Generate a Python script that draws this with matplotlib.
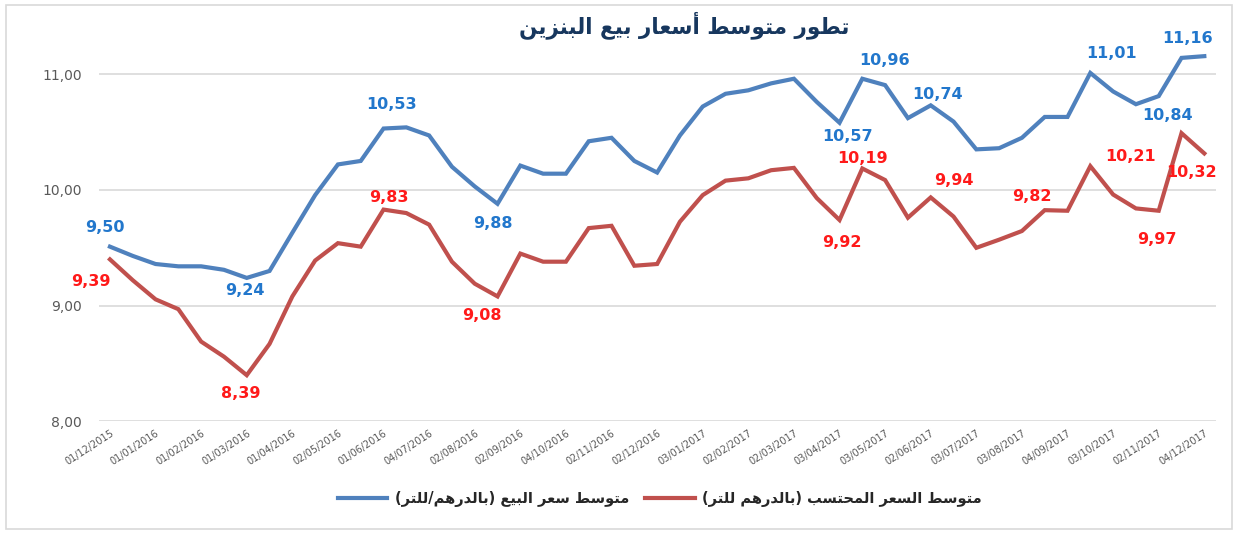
import matplotlib
matplotlib.use('Agg')
import matplotlib.pyplot as plt
from matplotlib.patches import Rectangle
from matplotlib.ticker import FuncFormatter

# ---------------- data ----------------
tick_dates = ['01/12/2015', '01/01/2016', '01/02/2016', '01/03/2016', '01/04/2016',
              '02/05/2016', '01/06/2016', '04/07/2016', '02/08/2016', '02/09/2016',
              '04/10/2016', '02/11/2016', '02/12/2016', '03/01/2017', '02/02/2017',
              '02/03/2017', '03/04/2017', '03/05/2017', '02/06/2017', '03/07/2017',
              '03/08/2017', '04/09/2017', '03/10/2017', '02/11/2017', '04/12/2017']

sale_price = [9.51, 9.43, 9.36, 9.34, 9.34, 9.31, 9.24, 9.30, 9.63, 9.955,
              10.22, 10.25, 10.53, 10.54, 10.47, 10.20, 10.03, 9.88, 10.21, 10.14,
              10.14, 10.42, 10.45, 10.25, 10.15, 10.47, 10.72, 10.83, 10.86, 10.92,
              10.96, 10.76, 10.58, 10.96, 10.905, 10.62, 10.73, 10.59, 10.35, 10.36,
              10.45, 10.63, 10.63, 11.01, 10.85, 10.74, 10.81, 11.14, 11.155]

calc_price = [9.40, 9.22, 9.055, 8.97, 8.69, 8.56, 8.40, 8.67, 9.08, 9.39,
              9.54, 9.51, 9.83, 9.80, 9.70, 9.38, 9.19, 9.08, 9.45, 9.38,
              9.38, 9.67, 9.69, 9.345, 9.36, 9.725, 9.955, 10.08, 10.10, 10.17,
              10.19, 9.93, 9.74, 10.185, 10.085, 9.76, 9.935, 9.77, 9.50, 9.57,
              9.645, 9.825, 9.82, 10.205, 9.96, 9.84, 9.82, 10.49, 10.315]

sale_lbl_idx = [0, 6, 12, 17, 32, 33, 36, 43, 46, 48]
sale_lbl_txt = ['9,50', '9,24', '10,53', '9,88', '10,57', '10,96', '10,74', '11,01', '10,84', '11,16']
calc_lbl_idx = [0, 6, 12, 17, 32, 33, 36, 41, 43, 46, 48]
calc_lbl_txt = ['9,39', '8,39', '9,83', '9,08', '9,92', '10,19', '9,94', '9,82', '10,21', '9,97', '10,32']

title_txt = 'تطور متوسط أسعار بيع البنزين'
sale_name = 'متوسط سعر البيع (بالدرهم/للتر)'
calc_name = 'متوسط السعر المحتسب (بالدرهم للتر)'


# ---------- minimal arabic shaping (no raqm in matplotlib) ----------
# char -> first presentation form code, number of forms (2 = right-joining, 4 = dual)
AR = {'ا': (0xFE8D, 2), 'أ': (0xFE83, 2), 'إ': (0xFE87, 2), 'آ': (0xFE81, 2),
      'ب': (0xFE8F, 4), 'ة': (0xFE93, 2), 'ت': (0xFE95, 4), 'ث': (0xFE99, 4),
      'ج': (0xFE9D, 4), 'ح': (0xFEA1, 4), 'خ': (0xFEA5, 4), 'د': (0xFEA9, 2),
      'ذ': (0xFEAB, 2), 'ر': (0xFEAD, 2), 'ز': (0xFEAF, 2), 'س': (0xFEB1, 4),
      'ش': (0xFEB5, 4), 'ص': (0xFEB9, 4), 'ض': (0xFEBD, 4), 'ط': (0xFEC1, 4),
      'ظ': (0xFEC5, 4), 'ع': (0xFEC9, 4), 'غ': (0xFECD, 4), 'ف': (0xFED1, 4),
      'ق': (0xFED5, 4), 'ك': (0xFED9, 4), 'ل': (0xFEDD, 4), 'م': (0xFEE1, 4),
      'ن': (0xFEE5, 4), 'ه': (0xFEE9, 4), 'و': (0xFEED, 2), 'ى': (0xFEEF, 2),
      'ي': (0xFEF1, 4)}
MIRROR = {'(': ')', ')': '('}


def shape(s):
    out = []
    for i, c in enumerate(s):
        if c not in AR:
            out.append(MIRROR.get(c, c))
            continue
        base, n = AR[c]
        prev = s[i - 1] if i > 0 else ''
        nxt = s[i + 1] if i + 1 < len(s) else ''
        join_prev = prev in AR and AR[prev][1] == 4
        join_next = n == 4 and nxt in AR
        if join_prev and join_next:
            f = 3
        elif join_prev:
            f = 1
        elif join_next:
            f = 2
        else:
            f = 0
        out.append(chr(base + f))
    return ''.join(out[::-1])


# ---------------- plotting ----------------
plt.rcParams['font.family'] = ['DejaVu Sans']

blue = '#4F81BD'
red = '#C0504D'
blue_txt = '#2277CC'
red_txt = '#FF1A1A'

fig = plt.figure(figsize=(12.38, 5.33), dpi=100)
fig.patches.append(Rectangle((6 / 1238, 4 / 533), 1226 / 1238, 524 / 533,
                             transform=fig.transFigure, fill=False,
                             edgecolor='#D9D9D9', linewidth=1.2))

ax = fig.add_axes([0.0796, 0.2092, 0.9024, 0.7604])
x = list(range(len(sale_price)))

l1, = ax.plot(x, sale_price, color=blue, linewidth=3, solid_joinstyle='miter',
              label=shape(sale_name))
l2, = ax.plot(x, calc_price, color=red, linewidth=3, solid_joinstyle='miter',
              label=shape(calc_name))

ax.set_xlim(-0.5, len(x) - 0.5)
ax.set_ylim(8, 11.5)
ax.set_yticks([8, 9, 10, 11])
ax.yaxis.set_major_formatter(FuncFormatter(lambda v, p: f'{v:.2f}'.replace('.', ',')))
ax.set_xticks(range(0, len(x), 2))
ax.set_xticklabels(tick_dates, rotation=33, ha='right', rotation_mode='anchor',
                   fontsize=7, color='#595959')
ax.tick_params(axis='y', length=0, pad=12, labelsize=10, labelcolor='#595959')
ax.tick_params(axis='x', length=0, pad=5)
ax.grid(axis='y', color='#D9D9D9', linewidth=1.2)
ax.set_axisbelow(True)
for s in ax.spines.values():
    s.set_visible(False)

# data labels, offsets in points from the point
sale_off = [(-4, 14), (-1, -9), (6, 17), (-3, -14), (6, -10), (16, 13), (5, 8), (15, 14), (6, -14), (-12, 13)]
calc_off = [(-14, -16), (-4, -13), (4, 9), (-11, -14), (2, -16), (0, 7), (17, 12), (-9, 10), (29, 7), (-1, -21), (-9, -14)]
for i, t, o in zip(sale_lbl_idx, sale_lbl_txt, sale_off):
    ax.annotate(t, (i, sale_price[i]), xytext=o, textcoords='offset points',
                ha='center', va='center', fontsize=11.5, fontweight='bold', color=blue_txt)
for i, t, o in zip(calc_lbl_idx, calc_lbl_txt, calc_off):
    ax.annotate(t, (i, calc_price[i]), xytext=o, textcoords='offset points',
                ha='center', va='center', fontsize=11.5, fontweight='bold', color=red_txt)

fig.text(0.553, 0.953, shape(title_txt), ha='center', va='center',
         fontsize=15.5, fontweight='bold', color='#17375E')

fig.legend(handles=[l1, l2], loc='center', bbox_to_anchor=(0.533, 0.063), ncol=2,
           frameon=False, prop={'size': 10.5, 'weight': 'bold'}, handlelength=3.4,
           columnspacing=1.1, handletextpad=0.5, labelcolor='#262626')

fig.savefig('out.png', dpi=100)
